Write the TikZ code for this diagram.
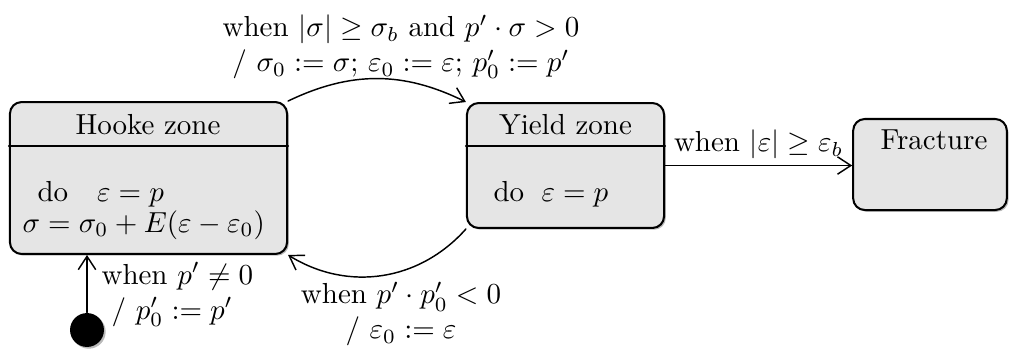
\documentclass[tikz,border=0pt]{standalone}
\usepackage{amsmath,amssymb}
\usetikzlibrary{arrows.meta,shadows}

\begin{document}
\begin{tikzpicture}[x=0.345pt, y=0.345pt, line join=round, line cap=round,
	trans/.style={-{Straight Barb[length=4.6pt,width=6pt]}, line width=0.5pt},
	state/.style={draw, line width=0.7pt, fill=black!10, rounded corners=4pt,
		drop shadow={shadow xshift=0.6pt, shadow yshift=-0.6pt, fill=black!45, opacity=0.6}},
	txt/.style={inner sep=0pt}]
	\useasboundingbox (0,0) rectangle (1012,-349);

	% Các trạng thái
	\node[state, minimum width=95.6pt, minimum height=52.4pt] (hooke) at (148.5,-178) {};
	\node[state, minimum width=68pt, minimum height=43.1pt] (yield) at (565.5,-165.5) {};
	\node[state, minimum width=53pt, minimum height=31.4pt] (fracture) at (930,-164.5) {};
	\node[circle, fill=black, minimum size=11.7pt, inner sep=0pt,
		drop shadow={shadow xshift=0.6pt, shadow yshift=-0.6pt, fill=black!45, opacity=0.6}] (init) at (87,-330) {};

	% Vạch ngăn
	\draw[line width=0.7pt] ([yshift=-15.5pt]hooke.north west) -- ([yshift=-15.5pt]hooke.north east);
	\draw[line width=0.7pt] ([yshift=-15.2pt]yield.north west) -- ([yshift=-15.2pt]yield.north east);

	% Tên trạng thái
	\node[txt, anchor=base] (hookeName) at (148,-134) {Hooke zone};
	\node[txt, anchor=base] (yieldName) at (565.5,-134) {Yield zone};
	\node[txt, anchor=base] (fractureName) at (934,-149) {Fracture};

	% Hoạt động
	\node[txt, anchor=base west] (hookeDo) at (37,-201) {do\quad$\varepsilon = p$};
	\node[txt, anchor=base west] (hookeLaw) at (22,-232) {$\sigma = \sigma_0 + E(\varepsilon - \varepsilon_0)$};
	\node[txt, anchor=base west] (yieldDo) at (493,-201) {do\hspace{6pt}$\varepsilon = p$};

	% Chuyển trạng thái
	\draw[trans] (hooke.north east) to[bend left=26] (yield.north west);
	\draw[trans] (yield.south west) to[bend left=40] (hooke.south east);
	\draw[trans] (yield.east) -- (fracture.west |- yield.east)
		node[midway, above, inner sep=2pt] (fractureLbl) {when $|\varepsilon| \geq \varepsilon_b$};
	\draw[trans] (init.north) -- (init.north |- hooke.south);

	% Nhãn
	\node[align=center, inner sep=0pt] (yieldLbl) at (401,-47)
		{when $|\sigma| \geq \sigma_b$ and $p' \cdot \sigma > 0$\\
		/ $\sigma_0 := \sigma$; $\varepsilon_0 := \varepsilon$; $p'_0 := p'$};
	\node[align=center, inner sep=0pt] (hookeLbl) at (401,-314)
		{when $p' \cdot p'_0 < 0$\\ / $\varepsilon_0 := \varepsilon$};
	\node[align=left, inner sep=0pt, anchor=north west] (initLbl) at (101,-262)
		{when $p' \neq 0$\\ \hspace{3.5pt}/ $p'_0 := p'$};
\end{tikzpicture}
\end{document}
